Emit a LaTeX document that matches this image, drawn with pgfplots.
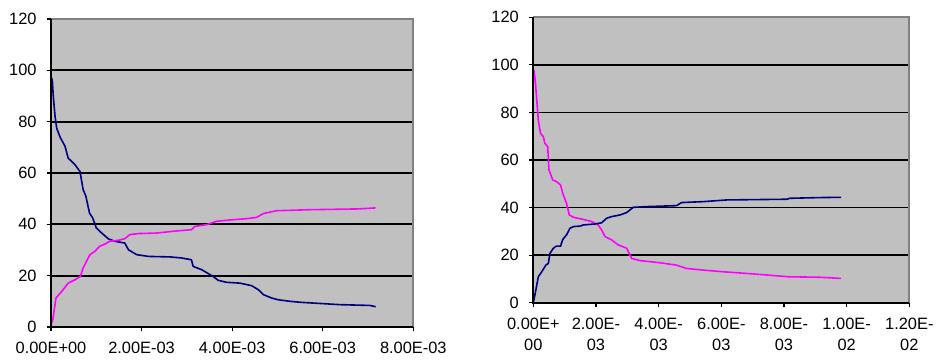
\documentclass[border=0pt]{standalone}
\usepackage{pgfplots}
\pgfplotsset{compat=1.18}
\usepackage{fontspec}
\setmainfont{Liberation Sans}
\definecolor{plotgray}{HTML}{C0C0C0}
\definecolor{bordergray}{HTML}{808080}
\definecolor{navyline}{HTML}{000080}
\definecolor{magline}{HTML}{FF00FF}
\pgfplotsset{
  excel/.style={
    scale only axis,
    axis line style={draw=none},
    axis background/.style={fill=plotgray},
    ymin=0, ymax=120, ytick={0,20,...,120},
    ymajorgrids, grid style={black, line width=0.9pt},
    tick align=outside, major tick length=2.2pt,
    tick style={black, line width=0.6pt},
    xtick pos=bottom, ytick pos=left,
    /pgf/number format/assume math mode=true,
    tick label style={font=\fontsize{8.2}{10.5}\selectfont, black},
    yticklabel style={xshift=-1.5pt},
    xticklabel style={inner ysep=0pt, yshift=-5.2pt},
    every axis plot/.append style={line width=0.8pt, mark=none},
    clip=false,
    extra description/.code={
      \draw[bordergray, line width=1.1pt] (axis description cs:0,1) -- (axis description cs:1,1) -- (axis description cs:1,0);
      \draw[black, line width=1.1pt] (axis description cs:0,1) -- (axis description cs:0,0) -- (axis description cs:1,0);
    },
  }
}
\begin{document}
\begin{tikzpicture}
\useasboundingbox (0,0) rectangle (468pt,181.5pt);
% ---------- left chart ----------
\begin{axis}[excel,
  at={(25.5pt,18pt)}, anchor=south west,
  width=181.15pt, height=154pt,
  xmin=0, xmax=0.008,
  xtick={0,0.002,0.004,0.006,0.008},
  xticklabels={0.00E+00,2.00E-03,4.00E-03,6.00E-03,8.00E-03},
]
\addplot[navyline] coordinates {
(0,97.7) (0.00003,96) (0.00005,90) (0.00009,82) (0.000125,77.5) (0.0002,74)
(0.00031,70.4) (0.00038,65.8) (0.00053,63.2) (0.00064,60.6) (0.00071,53.5)
(0.00077,51) (0.00085,44.4) (0.00092,42.5) (0.0010,38.6) (0.00112,36.6)
(0.00127,34.3) (0.00141,33.4) (0.00163,32.7) (0.00171,30.1) (0.00189,28.2)
(0.00215,27.5) (0.00263,27.3) (0.00288,26.9) (0.0031,26.2) (0.00314,23.6)
(0.00333,22.3) (0.00358,19.7) (0.00369,18.2) (0.00388,17.4) (0.00417,17.1)
(0.00443,16.1) (0.00458,14.5) (0.00469,12.6) (0.00487,11.3) (0.00502,10.6)
(0.00528,10) (0.00553,9.6) (0.00601,9.1) (0.00638,8.7) (0.00704,8.4) (0.00717,7.9)
};
\addplot[magline] coordinates {
(0,0.9) (0.00004,2.9) (0.00011,11.3) (0.00024,13.9) (0.00038,17.1) (0.00053,18.4)
(0.00065,19.7) (0.00071,23) (0.00086,28.2) (0.00097,29.5) (0.00107,31.4)
(0.00119,32.3) (0.0013,33.4) (0.00149,33.8) (0.00163,34.4) (0.00174,36)
(0.00193,36.4) (0.00233,36.6) (0.0027,37.3) (0.0031,37.9) (0.00318,39.2)
(0.00344,39.9) (0.00366,41.2) (0.00402,41.8) (0.00432,42.2) (0.00454,42.7)
(0.00469,44.2) (0.00498,45.3) (0.00572,45.7) (0.00678,46) (0.00717,46.4)
};
\end{axis}
% ---------- right chart ----------
\begin{axis}[excel,
  at={(266.65pt,30.15pt)}, anchor=south west,
  width=188pt, height=142.7pt,
  xmin=0, xmax=0.012,
  xtick={0,0.002,0.004,0.006,0.008,0.010,0.012},
  xticklabels={{0.00E+\\00},{2.00E-\\03},{4.00E-\\03},{6.00E-\\03},{8.00E-\\03},{1.00E-\\02},{1.20E-\\02}},
  xticklabel style={align=center},
]
\addplot[magline] coordinates {
(0.00002,97.9) (0.00007,92.2) (0.00016,76.8) (0.00023,71.2) (0.00032,69.8)
(0.00037,67) (0.00046,65.6) (0.0005,55.8) (0.00062,51.6) (0.00074,50.9)
(0.00087,49.5) (0.00094,46) (0.00106,41.8) (0.00115,36.9) (0.00128,35.9)
(0.0016,35) (0.00186,34.1) (0.00207,32.7) (0.00218,30.6) (0.00229,27.8)
(0.0025,26.4) (0.00271,24.3) (0.00298,22.9) (0.00314,18.6) (0.0034,17.7)
(0.00404,16.8) (0.00457,15.8) (0.00489,14.4) (0.00543,13.7) (0.00606,13)
(0.00681,12.3) (0.0075,11.6) (0.00814,10.9) (0.00915,10.7) (0.00982,10.2)
};
\addplot[navyline] coordinates {
(0,0) (0.00005,3.2) (0.00016,10.9) (0.00027,13) (0.0004,15.8) (0.00048,16.5)
(0.00053,20.7) (0.00064,22.9) (0.00074,23.8) (0.00087,23.8) (0.00094,26.6)
(0.00106,28.5) (0.00117,31.3) (0.00128,32) (0.00149,32.2) (0.0016,32.7)
(0.00197,33.1) (0.00218,33.6) (0.00234,35.5) (0.0025,36.2) (0.00277,36.9)
(0.00298,37.9) (0.00319,40.1) (0.00362,40.4) (0.00457,40.8) (0.00473,42.1)
(0.00543,42.5) (0.00617,43.2) (0.00809,43.5) (0.00819,43.9) (0.00915,44.2)
(0.00982,44.3)
};
\end{axis}
\end{tikzpicture}
\end{document}
